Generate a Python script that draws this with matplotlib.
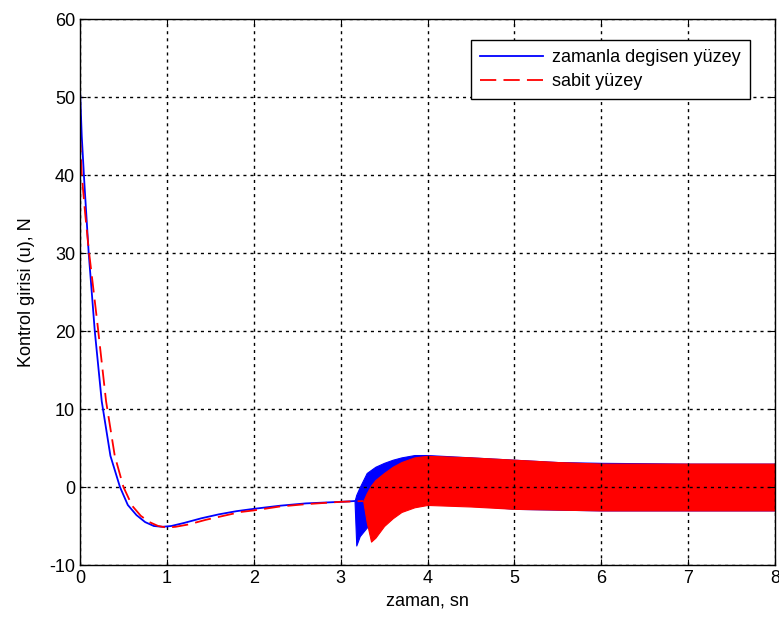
import numpy as np
import matplotlib
matplotlib.use("Agg")
import matplotlib.pyplot as plt

plt.rcParams['font.family'] = ['Liberation Sans', 'DejaVu Sans']
plt.rcParams['axes.unicode_minus'] = False

# smooth part of the control input, before chattering starts
t_blue = [0.0, 0.02, 0.05, 0.1, 0.17, 0.25, 0.35, 0.46, 0.55, 0.65, 0.75, 0.85,
          0.95, 1.05, 1.2, 1.4, 1.6, 1.8, 2.0, 2.3, 2.6, 3.0, 3.16]
u_blue = [51.0, 45.0, 39.0, 30.0, 20.0, 11.0, 4.0, 0.0, -2.3, -3.6, -4.5, -5.0,
          -5.1, -5.0, -4.6, -4.0, -3.5, -3.1, -2.8, -2.4, -2.1, -1.9, -1.8]

t_red = [0.0, 0.02, 0.06, 0.1, 0.2, 0.3, 0.4, 0.5, 0.6, 0.7, 0.8, 0.9, 1.0,
         1.1, 1.25, 1.45, 1.65, 1.85, 2.0, 2.3, 2.6, 3.0, 3.26]
u_red = [45.0, 40.0, 35.0, 30.5, 21.0, 11.0, 4.0, 0.0, -2.4, -3.7, -4.5, -5.0, -5.2,
         -5.1, -4.8, -4.2, -3.7, -3.2, -3.0, -2.5, -2.2, -1.9, -1.8]

# chattering band (upper / lower extent of the switching signal)
tb_band = [3.16, 3.18, 3.22, 3.3, 3.4, 3.5, 3.6, 3.7, 3.85, 4.0, 4.5, 5.0, 5.5, 6.0, 7.0, 8.0]
ub_hi = [-1.8, -1.0, 0.0, 1.8, 2.6, 3.1, 3.5, 3.8, 4.1, 4.1, 3.8, 3.5, 3.2, 3.1, 3.0, 3.0]
ub_lo = [-1.8, -7.5, -6.3, -5.2, -4.5, -3.8, -3.2, -2.7, -2.2, -2.0, -2.3, -2.8, -2.9, -3.0, -3.0, -3.0]

tr_band = [3.26, 3.3, 3.35, 3.4, 3.5, 3.6, 3.7, 3.85, 4.0, 4.5, 5.0, 5.5, 6.0, 7.0, 8.0]
ur_hi = [-1.8, -0.8, 0.2, 0.9, 1.8, 2.6, 3.2, 3.8, 4.0, 3.8, 3.5, 3.2, 3.0, 3.0, 3.0]
ur_lo = [-1.8, -4.5, -7.0, -6.5, -5.0, -4.0, -3.2, -2.6, -2.3, -2.5, -2.8, -2.9, -3.0, -3.0, -3.0]

fig = plt.figure(figsize=(7.79, 6.28), dpi=100, facecolor='white')
ax = fig.add_axes([0.1027, 0.1003, 0.8922, 0.8694])

ax.fill_between(tb_band, ub_lo, ub_hi, color='blue', lw=0.8)
ax.fill_between(tr_band, ur_lo, ur_hi, color='red', lw=0.8)

ax.plot(t_blue, u_blue, color='blue', lw=1.3, label='zamanla degisen yüzey')
ax.plot(t_red, u_red, color='red', lw=1.3, linestyle=(0, (9, 4)), label='sabit yüzey')

ax.set_xlim(0, 8)
ax.set_ylim(-10, 60)
ax.set_xticks(range(0, 9))
ax.set_yticks(range(-10, 61, 10))
ax.grid(True, color='black', linestyle=(0, (2.2, 2.9)), lw=1.0)
ax.tick_params(direction='in', top=True, right=True, labelsize=13, length=4)
for s in ax.spines.values():
    s.set_linewidth(1.0)

ax.set_xlabel('zaman, sn', fontsize=13, labelpad=4)
ax.set_ylabel('Kontrol girisi (u), N', fontsize=13, labelpad=10)

leg = ax.legend(loc='upper right', bbox_to_anchor=(0.977, 0.978), fontsize=13,
                handlelength=3.5, handletextpad=0.5, borderpad=0.5,
                labelspacing=0.4, fancybox=False, framealpha=1, edgecolor='black')
leg.get_frame().set_linewidth(1.0)

fig.savefig('out.png', dpi=100, facecolor='white')
